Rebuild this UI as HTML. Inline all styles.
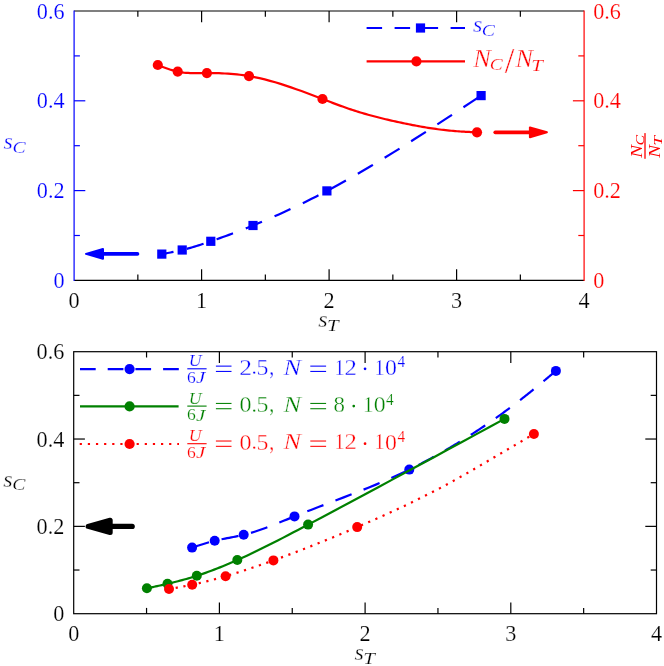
<!DOCTYPE html>
<html>
<head>
<meta charset="utf-8">
<title>sC vs sT</title>
<style>
html, body { margin: 0; padding: 0; background: #ffffff; }
body { width: 664px; height: 666px; overflow: hidden; }
svg { display: block; font-family: "Liberation Serif", serif; will-change: transform; }
text.g { font-size: 100px; stroke: #ffffff; stroke-width: 0.35px; vector-effect: non-scaling-stroke; paint-order: fill stroke; }
text.h { font-size: 100px; }
text.m { font-size: 100px; stroke: #ffffff; stroke-width: 0.22px; vector-effect: non-scaling-stroke; paint-order: fill stroke; }
text.t { stroke: #ffffff; stroke-width: 0.18px; paint-order: fill stroke; }
</style>
</head>
<body>
<svg width="664" height="666" viewBox="0 0 664 666">
<rect x="0" y="0" width="664" height="666" fill="#ffffff"/>
<line x1="74.1" y1="11" x2="584.1" y2="11" stroke="#000000" stroke-width="1.2" />
<line x1="74.1" y1="280.4" x2="584.1" y2="280.4" stroke="#000000" stroke-width="1.2" />
<line x1="137.85" y1="280.4" x2="137.85" y2="274.6" stroke="#000000" stroke-width="1.2" />
<line x1="137.85" y1="11" x2="137.85" y2="16.8" stroke="#000000" stroke-width="1.2" />
<line x1="201.6" y1="280.4" x2="201.6" y2="269.2" stroke="#000000" stroke-width="1.2" />
<line x1="201.6" y1="11" x2="201.6" y2="22.2" stroke="#000000" stroke-width="1.2" />
<line x1="265.35" y1="280.4" x2="265.35" y2="274.6" stroke="#000000" stroke-width="1.2" />
<line x1="265.35" y1="11" x2="265.35" y2="16.8" stroke="#000000" stroke-width="1.2" />
<line x1="329.1" y1="280.4" x2="329.1" y2="269.2" stroke="#000000" stroke-width="1.2" />
<line x1="329.1" y1="11" x2="329.1" y2="22.2" stroke="#000000" stroke-width="1.2" />
<line x1="392.85" y1="280.4" x2="392.85" y2="274.6" stroke="#000000" stroke-width="1.2" />
<line x1="392.85" y1="11" x2="392.85" y2="16.8" stroke="#000000" stroke-width="1.2" />
<line x1="456.6" y1="280.4" x2="456.6" y2="269.2" stroke="#000000" stroke-width="1.2" />
<line x1="456.6" y1="11" x2="456.6" y2="22.2" stroke="#000000" stroke-width="1.2" />
<line x1="520.35" y1="280.4" x2="520.35" y2="274.6" stroke="#000000" stroke-width="1.2" />
<line x1="520.35" y1="11" x2="520.35" y2="16.8" stroke="#000000" stroke-width="1.2" />
<line x1="74.1" y1="235.5" x2="79.9" y2="235.5" stroke="#0000ff" stroke-width="1.2" />
<line x1="584.1" y1="235.5" x2="578.3" y2="235.5" stroke="#ff0000" stroke-width="1.2" />
<line x1="74.1" y1="190.6" x2="85.3" y2="190.6" stroke="#0000ff" stroke-width="1.2" />
<line x1="584.1" y1="190.6" x2="572.9" y2="190.6" stroke="#ff0000" stroke-width="1.2" />
<line x1="74.1" y1="145.7" x2="79.9" y2="145.7" stroke="#0000ff" stroke-width="1.2" />
<line x1="584.1" y1="145.7" x2="578.3" y2="145.7" stroke="#ff0000" stroke-width="1.2" />
<line x1="74.1" y1="100.8" x2="85.3" y2="100.8" stroke="#0000ff" stroke-width="1.2" />
<line x1="584.1" y1="100.8" x2="572.9" y2="100.8" stroke="#ff0000" stroke-width="1.2" />
<line x1="74.1" y1="55.9" x2="79.9" y2="55.9" stroke="#0000ff" stroke-width="1.2" />
<line x1="584.1" y1="55.9" x2="578.3" y2="55.9" stroke="#ff0000" stroke-width="1.2" />
<line x1="74.1" y1="10.4" x2="74.1" y2="281" stroke="#0000ff" stroke-width="1.2" />
<line x1="584.1" y1="10.4" x2="584.1" y2="281" stroke="#ff0000" stroke-width="1.2" />
<text class="t" x="74.1" y="307.8" fill="#000000" font-size="22.2" text-anchor="middle" >0</text>
<text class="t" x="201.6" y="307.8" fill="#000000" font-size="22.2" text-anchor="middle" >1</text>
<text class="t" x="329.1" y="307.8" fill="#000000" font-size="22.2" text-anchor="middle" >2</text>
<text class="t" x="456.6" y="307.8" fill="#000000" font-size="22.2" text-anchor="middle" >3</text>
<text class="t" x="584.1" y="307.8" fill="#000000" font-size="22.2" text-anchor="middle" >4</text>
<text class="t" x="64.6" y="288" fill="#0000ff" font-size="22.2" text-anchor="end" >0</text>
<text class="t" x="593.2" y="288" fill="#ff0000" font-size="22.2" text-anchor="start" >0</text>
<text class="t" x="64.6" y="198.2" fill="#0000ff" font-size="22.2" text-anchor="end" >0.2</text>
<text class="t" x="593.2" y="198.2" fill="#ff0000" font-size="22.2" text-anchor="start" >0.2</text>
<text class="t" x="64.6" y="108.4" fill="#0000ff" font-size="22.2" text-anchor="end" >0.4</text>
<text class="t" x="593.2" y="108.4" fill="#ff0000" font-size="22.2" text-anchor="start" >0.4</text>
<text class="t" x="64.6" y="18.6" fill="#0000ff" font-size="22.2" text-anchor="end" >0.6</text>
<text class="t" x="593.2" y="18.6" fill="#ff0000" font-size="22.2" text-anchor="start" >0.6</text>
<path d="M157.8 65 L159.22 65.56 L160.64 66.11 L162.06 66.66 L163.49 67.2 L164.91 67.73 L166.33 68.24 L167.75 68.74 L169.17 69.23 L170.59 69.69 L172.01 70.13 L173.44 70.54 L174.86 70.93 L176.28 71.28 L177.7 71.6 L179.79 72.01 L181.87 72.34 L183.96 72.61 L186.04 72.82 L188.13 72.97 L190.21 73.08 L192.3 73.16 L194.39 73.2 L196.47 73.21 L198.56 73.2 L200.64 73.18 L202.73 73.15 L204.81 73.12 L206.9 73.1 L209.91 73.09 L212.91 73.1 L215.92 73.15 L218.93 73.22 L221.94 73.33 L224.94 73.48 L227.95 73.66 L230.96 73.88 L233.96 74.14 L236.97 74.44 L239.98 74.78 L242.99 75.17 L245.99 75.61 L249 76.1 L254.25 77.07 L259.5 78.19 L264.75 79.44 L270 80.82 L275.25 82.31 L280.5 83.9 L285.75 85.58 L291 87.35 L296.25 89.18 L301.5 91.07 L306.75 93.01 L312 94.98 L317.25 96.98 L322.5 99 L324.51 99.78 L326.53 100.55 L328.54 101.32 L330.56 102.09 L332.57 102.86 L334.59 103.62 L336.6 104.38 L338.61 105.12 L340.63 105.86 L342.64 106.59 L344.66 107.31 L346.67 108.02 L348.69 108.72 L350.7 109.4 L352.64 110.04 L354.57 110.67 L356.51 111.28 L358.44 111.89 L360.38 112.48 L362.31 113.05 L364.25 113.62 L366.19 114.18 L368.12 114.72 L370.06 115.26 L371.99 115.78 L373.93 116.3 L375.86 116.8 L377.8 117.3 L379.74 117.79 L381.67 118.27 L383.61 118.74 L385.54 119.21 L387.48 119.67 L389.41 120.12 L391.35 120.57 L393.29 121 L395.22 121.44 L397.16 121.86 L399.09 122.28 L401.03 122.69 L402.96 123.1 L404.9 123.5 L406.84 123.9 L408.77 124.29 L410.71 124.67 L412.64 125.05 L414.58 125.42 L416.51 125.78 L418.45 126.14 L420.39 126.49 L422.32 126.83 L424.26 127.16 L426.19 127.49 L428.13 127.8 L430.06 128.11 L432 128.4 L433.94 128.68 L435.87 128.96 L437.81 129.22 L439.74 129.48 L441.68 129.72 L443.61 129.95 L445.55 130.17 L447.49 130.38 L449.42 130.58 L451.36 130.77 L453.29 130.94 L455.23 131.11 L457.16 131.26 L459.1 131.4 L460.38 131.49 L461.66 131.57 L462.94 131.64 L464.21 131.72 L465.49 131.79 L466.77 131.85 L468.05 131.91 L469.33 131.97 L470.61 132.03 L471.89 132.09 L473.16 132.14 L474.44 132.2 L475.72 132.25 L477 132.3" fill="none" stroke="#ff0000" stroke-width="2.2"/>
<path d="M161.8 254.1 L163.26 253.84 L164.71 253.57 L166.17 253.31 L167.63 253.04 L169.09 252.76 L170.54 252.49 L172 252.2 L173.46 251.92 L174.91 251.62 L176.37 251.32 L177.83 251 L179.29 250.68 L180.74 250.35 L182.2 250 L184.24 249.49 L186.29 248.97 L188.33 248.42 L190.37 247.84 L192.41 247.25 L194.46 246.64 L196.5 246.02 L198.54 245.38 L200.59 244.73 L202.63 244.06 L204.67 243.38 L206.71 242.7 L208.76 242 L210.8 241.3 L213.81 240.25 L216.83 239.2 L219.84 238.13 L222.86 237.05 L225.87 235.95 L228.89 234.85 L231.9 233.73 L234.91 232.59 L237.93 231.45 L240.94 230.29 L243.96 229.11 L246.97 227.92 L249.99 226.72 L253 225.5 L258.28 223.33 L263.56 221.12 L268.84 218.85 L274.11 216.55 L279.39 214.19 L284.67 211.79 L289.95 209.34 L295.23 206.85 L300.51 204.31 L305.79 201.72 L311.06 199.09 L316.34 196.41 L321.62 193.68 L326.9 190.9 L337.91 184.96 L348.93 178.82 L359.94 172.51 L370.96 166.03 L381.97 159.41 L392.99 152.66 L404 145.78 L415.01 138.8 L426.03 131.74 L437.04 124.6 L448.06 117.4 L459.07 110.16 L470.09 102.89 L481.1 95.6" fill="none" stroke="#0000ff" stroke-width="2.2" stroke-dasharray="17.5 13.7" stroke-dashoffset="5.6"/>
<circle cx="157.8" cy="65" r="5.1" fill="#ff0000"/>
<circle cx="177.7" cy="71.6" r="5.1" fill="#ff0000"/>
<circle cx="206.9" cy="73.1" r="5.1" fill="#ff0000"/>
<circle cx="249" cy="76.1" r="5.1" fill="#ff0000"/>
<circle cx="322.5" cy="99" r="5.1" fill="#ff0000"/>
<circle cx="477" cy="132.3" r="5.1" fill="#ff0000"/>
<rect x="157.2" y="249.5" width="9.2" height="9.2" fill="#0000ff"/>
<rect x="177.6" y="245.4" width="9.2" height="9.2" fill="#0000ff"/>
<rect x="206.2" y="236.7" width="9.2" height="9.2" fill="#0000ff"/>
<rect x="248.4" y="220.9" width="9.2" height="9.2" fill="#0000ff"/>
<rect x="322.3" y="186.3" width="9.2" height="9.2" fill="#0000ff"/>
<rect x="476.5" y="91" width="9.2" height="9.2" fill="#0000ff"/>
<path d="M366.6 28 H465" fill="none" stroke="#0000ff" stroke-width="2.2" stroke-dasharray="15.5 12.5"/>
<rect x="415.9" y="23.4" width="9.2" height="9.2" fill="#0000ff"/>
<line x1="366.6" y1="61.3" x2="465" y2="61.3" stroke="#ff0000" stroke-width="2.2" />
<circle cx="416.4" cy="61.3" r="5.1" fill="#ff0000"/>
<g fill="#0000ff">
<text class="g" transform="matrix(0.2406 0 0 0.2313 472.9 32.47)" font-style="italic">s</text>
<text class="m" transform="matrix(0.1968 0 0 0.1770 481.82 35.92)" font-style="italic">C</text>
</g>
<g fill="#ff0000">
<text class="g" transform="matrix(0.2639 0 0 0.2458 473.3 67.1)" font-style="italic">N</text>
<text class="m" transform="matrix(0.1935 0 0 0.1755 489.84 70.42)" font-style="italic">C</text>
<text class="g" transform="matrix(0.3459 0 0 0.3537 504.8 72.55)">/</text>
<text class="g" transform="matrix(0.2611 0 0 0.2458 515.4 67.1)" font-style="italic">N</text>
<text class="m" transform="matrix(0.2091 0 0 0.1664 531.24 70.7)" font-style="italic">T</text>
</g>
<line x1="137.45" y1="253.9" x2="103" y2="253.9" stroke="#0000ff" stroke-width="3.7" stroke-linecap="round"/>
<path d="M86 253.9 L103 249 L103 258.8 Z" fill="#0000ff" stroke="#0000ff" stroke-width="2.0" stroke-linejoin="round"/>
<line x1="495.25" y1="132.3" x2="529.9" y2="132.3" stroke="#ff0000" stroke-width="3.7" stroke-linecap="round"/>
<path d="M546.9 132.3 L529.9 127.4 L529.9 137.2 Z" fill="#ff0000" stroke="#ff0000" stroke-width="2.0" stroke-linejoin="round"/>
<g fill="#0000ff">
<text class="g" transform="matrix(0.2406 0 0 0.2312 3.6 149.27)" font-style="italic">s</text>
<text class="m" transform="matrix(0.1968 0 0 0.1770 12.52 152.72)" font-style="italic">C</text>
</g>
<g fill="#000000">
<text class="g" transform="matrix(0.2406 0 0 0.2312 318.3 327.27)" font-style="italic">s</text>
<text class="m" transform="matrix(0.2091 0 0 0.1649 327.04 330.8)" font-style="italic">T</text>
</g>
<g transform="rotate(-90)" fill="#ff0000">
<text class="h" transform="matrix(0.1917 0 0 0.1710 -157.76 642.1)" font-style="italic">N</text>
<text class="h" transform="matrix(0.1581 0 0 0.1309 -145.57 643.87)" font-style="italic">C</text>
<text class="h" transform="matrix(0.1917 0 0 0.1725 -157.76 660.1)" font-style="italic">N</text>
<text class="h" transform="matrix(0.1709 0 0 0.1267 -145.51 662.1)" font-style="italic">T</text>
</g>
<rect x="644.35" y="133.1" width="1.3" height="25.7" fill="#ff0000"/>
<rect x="73.7" y="351.7" width="582.8" height="262" fill="none" stroke="#000000" stroke-width="1.2"/>
<line x1="146.55" y1="613.7" x2="146.55" y2="607.9" stroke="#000000" stroke-width="1.2" />
<line x1="146.55" y1="351.7" x2="146.55" y2="357.5" stroke="#000000" stroke-width="1.2" />
<line x1="219.4" y1="613.7" x2="219.4" y2="602.5" stroke="#000000" stroke-width="1.2" />
<line x1="219.4" y1="351.7" x2="219.4" y2="362.9" stroke="#000000" stroke-width="1.2" />
<line x1="292.25" y1="613.7" x2="292.25" y2="607.9" stroke="#000000" stroke-width="1.2" />
<line x1="292.25" y1="351.7" x2="292.25" y2="357.5" stroke="#000000" stroke-width="1.2" />
<line x1="365.1" y1="613.7" x2="365.1" y2="602.5" stroke="#000000" stroke-width="1.2" />
<line x1="365.1" y1="351.7" x2="365.1" y2="362.9" stroke="#000000" stroke-width="1.2" />
<line x1="437.95" y1="613.7" x2="437.95" y2="607.9" stroke="#000000" stroke-width="1.2" />
<line x1="437.95" y1="351.7" x2="437.95" y2="357.5" stroke="#000000" stroke-width="1.2" />
<line x1="510.8" y1="613.7" x2="510.8" y2="602.5" stroke="#000000" stroke-width="1.2" />
<line x1="510.8" y1="351.7" x2="510.8" y2="362.9" stroke="#000000" stroke-width="1.2" />
<line x1="583.65" y1="613.7" x2="583.65" y2="607.9" stroke="#000000" stroke-width="1.2" />
<line x1="583.65" y1="351.7" x2="583.65" y2="357.5" stroke="#000000" stroke-width="1.2" />
<line x1="73.7" y1="570.03" x2="79.5" y2="570.03" stroke="#000000" stroke-width="1.2" />
<line x1="656.5" y1="570.03" x2="650.7" y2="570.03" stroke="#000000" stroke-width="1.2" />
<line x1="73.7" y1="526.37" x2="84.9" y2="526.37" stroke="#000000" stroke-width="1.2" />
<line x1="656.5" y1="526.37" x2="645.3" y2="526.37" stroke="#000000" stroke-width="1.2" />
<line x1="73.7" y1="482.7" x2="79.5" y2="482.7" stroke="#000000" stroke-width="1.2" />
<line x1="656.5" y1="482.7" x2="650.7" y2="482.7" stroke="#000000" stroke-width="1.2" />
<line x1="73.7" y1="439.03" x2="84.9" y2="439.03" stroke="#000000" stroke-width="1.2" />
<line x1="656.5" y1="439.03" x2="645.3" y2="439.03" stroke="#000000" stroke-width="1.2" />
<line x1="73.7" y1="395.37" x2="79.5" y2="395.37" stroke="#000000" stroke-width="1.2" />
<line x1="656.5" y1="395.37" x2="650.7" y2="395.37" stroke="#000000" stroke-width="1.2" />
<text class="t" x="73.7" y="641.3" fill="#000000" font-size="22.2" text-anchor="middle" >0</text>
<text class="t" x="219.4" y="641.3" fill="#000000" font-size="22.2" text-anchor="middle" >1</text>
<text class="t" x="365.1" y="641.3" fill="#000000" font-size="22.2" text-anchor="middle" >2</text>
<text class="t" x="510.8" y="641.3" fill="#000000" font-size="22.2" text-anchor="middle" >3</text>
<text class="t" x="656.5" y="641.3" fill="#000000" font-size="22.2" text-anchor="middle" >4</text>
<text class="t" x="64.3" y="621.3" fill="#000000" font-size="22.2" text-anchor="end" >0</text>
<text class="t" x="64.3" y="533.97" fill="#000000" font-size="22.2" text-anchor="end" >0.2</text>
<text class="t" x="64.3" y="446.63" fill="#000000" font-size="22.2" text-anchor="end" >0.4</text>
<text class="t" x="64.3" y="359.3" fill="#000000" font-size="22.2" text-anchor="end" >0.6</text>
<path d="M192.1 547.6 L193.71 547.07 L195.33 546.54 L196.94 546.01 L198.56 545.49 L200.17 544.97 L201.79 544.46 L203.4 543.96 L205.01 543.46 L206.63 542.98 L208.24 542.52 L209.86 542.06 L211.47 541.62 L213.09 541.2 L214.7 540.8 L216.77 540.31 L218.84 539.85 L220.91 539.41 L222.99 538.99 L225.06 538.59 L227.13 538.19 L229.2 537.8 L231.27 537.41 L233.34 537.01 L235.41 536.61 L237.49 536.19 L239.56 535.75 L241.63 535.29 L243.7 534.8 L247.33 533.87 L250.96 532.84 L254.59 531.73 L258.21 530.54 L261.84 529.29 L265.47 527.98 L269.1 526.62 L272.73 525.22 L276.36 523.78 L279.99 522.32 L283.61 520.84 L287.24 519.36 L290.87 517.88 L294.5 516.4 L302.7 513.12 L310.9 509.92 L319.1 506.76 L327.3 503.63 L335.5 500.51 L343.7 497.38 L351.9 494.22 L360.1 491.01 L368.3 487.73 L376.5 484.36 L384.7 480.88 L392.9 477.28 L401.1 473.52 L409.3 469.6 L410.78 468.87 L412.26 468.14 L413.74 467.4 L415.21 466.66 L416.69 465.91 L418.17 465.15 L419.65 464.39 L421.13 463.62 L422.61 462.85 L424.09 462.07 L425.56 461.28 L427.04 460.49 L428.52 459.7 L430 458.9 L431.43 458.12 L432.86 457.34 L434.29 456.55 L435.71 455.76 L437.14 454.97 L438.57 454.16 L440 453.36 L441.43 452.55 L442.86 451.74 L444.29 450.92 L445.71 450.09 L447.14 449.27 L448.57 448.44 L450 447.6 L451.43 446.76 L452.86 445.92 L454.29 445.07 L455.71 444.22 L457.14 443.36 L458.57 442.5 L460 441.63 L461.43 440.75 L462.86 439.88 L464.29 438.99 L465.71 438.1 L467.14 437.21 L468.57 436.31 L470 435.4 L471.43 434.49 L472.86 433.57 L474.29 432.64 L475.71 431.71 L477.14 430.77 L478.57 429.83 L480 428.88 L481.43 427.93 L482.86 426.97 L484.29 426 L485.71 425.04 L487.14 424.06 L488.57 423.08 L490 422.1 L491.43 421.11 L492.86 420.12 L494.29 419.12 L495.71 418.12 L497.14 417.12 L498.57 416.1 L500 415.09 L501.43 414.06 L502.86 413.03 L504.29 412 L505.71 410.96 L507.14 409.91 L508.57 408.86 L510 407.8 L511.43 406.73 L512.86 405.66 L514.29 404.58 L515.71 403.5 L517.14 402.4 L518.57 401.3 L520 400.2 L521.43 399.09 L522.86 397.97 L524.29 396.85 L525.71 395.72 L527.14 394.59 L528.57 393.45 L530 392.3 L531.07 391.44 L532.14 390.57 L533.21 389.7 L534.29 388.83 L535.36 387.96 L536.43 387.08 L537.5 386.2 L538.57 385.32 L539.64 384.44 L540.71 383.55 L541.79 382.67 L542.86 381.78 L543.93 380.89 L545 380 L545.78 379.35 L546.56 378.7 L547.34 378.06 L548.11 377.41 L548.89 376.76 L549.67 376.11 L550.45 375.46 L551.23 374.81 L552.01 374.16 L552.79 373.5 L553.56 372.85 L554.34 372.2 L555.12 371.55 L555.9 370.9" fill="none" stroke="#0000ff" stroke-width="2.2" stroke-dasharray="17.3 12.85" stroke-dashoffset="29.68"/>
<circle cx="192.1" cy="547.6" r="5.0" fill="#0000ff"/>
<circle cx="214.7" cy="540.8" r="5.0" fill="#0000ff"/>
<circle cx="243.7" cy="534.8" r="5.0" fill="#0000ff"/>
<circle cx="294.5" cy="516.4" r="5.0" fill="#0000ff"/>
<circle cx="409.3" cy="469.6" r="5.0" fill="#0000ff"/>
<circle cx="555.9" cy="370.9" r="5.0" fill="#0000ff"/>
<path d="M146.9 588.3 L148.37 587.99 L149.84 587.68 L151.31 587.37 L152.79 587.05 L154.26 586.74 L155.73 586.42 L157.2 586.11 L158.67 585.79 L160.14 585.46 L161.61 585.14 L163.09 584.81 L164.56 584.48 L166.03 584.14 L167.5 583.8 L169.59 583.31 L171.69 582.81 L173.78 582.29 L175.87 581.77 L177.96 581.23 L180.06 580.69 L182.15 580.13 L184.24 579.55 L186.34 578.96 L188.43 578.36 L190.52 577.75 L192.61 577.11 L194.71 576.47 L196.8 575.8 L199.69 574.85 L202.59 573.87 L205.48 572.86 L208.37 571.82 L211.26 570.75 L214.16 569.65 L217.05 568.53 L219.94 567.38 L222.84 566.21 L225.73 565.01 L228.62 563.79 L231.51 562.54 L234.41 561.28 L237.3 560 L242.36 557.71 L247.41 555.38 L252.47 552.99 L257.53 550.56 L262.59 548.09 L267.64 545.58 L272.7 543.03 L277.76 540.46 L282.81 537.86 L287.87 535.24 L292.93 532.6 L297.99 529.94 L303.04 527.27 L308.1 524.6 L322.13 517.16 L336.16 509.7 L350.19 502.22 L364.21 494.71 L378.24 487.18 L392.27 479.64 L406.3 472.08 L420.33 464.51 L434.36 456.93 L448.39 449.33 L462.41 441.73 L476.44 434.12 L490.47 426.51 L504.5 418.9" fill="none" stroke="#008000" stroke-width="2.2"/>
<circle cx="146.9" cy="588.3" r="5.0" fill="#008000"/>
<circle cx="167.5" cy="583.8" r="5.0" fill="#008000"/>
<circle cx="196.8" cy="575.8" r="5.0" fill="#008000"/>
<circle cx="237.3" cy="560" r="5.0" fill="#008000"/>
<circle cx="308.1" cy="524.6" r="5.0" fill="#008000"/>
<circle cx="504.5" cy="418.9" r="5.0" fill="#008000"/>
<path d="M169 589 L170.66 588.71 L172.31 588.42 L173.97 588.14 L175.63 587.84 L177.29 587.55 L178.94 587.25 L180.6 586.95 L182.26 586.65 L183.91 586.34 L185.57 586.03 L187.23 585.71 L188.89 585.38 L190.54 585.04 L192.2 584.7 L194.59 584.19 L196.97 583.67 L199.36 583.12 L201.74 582.57 L204.13 581.99 L206.51 581.4 L208.9 580.8 L211.29 580.18 L213.67 579.55 L216.06 578.9 L218.44 578.24 L220.83 577.57 L223.21 576.89 L225.6 576.2 L229.01 575.19 L232.43 574.16 L235.84 573.11 L239.26 572.03 L242.67 570.94 L246.09 569.83 L249.5 568.71 L252.91 567.57 L256.33 566.41 L259.74 565.23 L263.16 564.04 L266.57 562.84 L269.99 561.63 L273.4 560.4 L279.39 558.22 L285.37 556.01 L291.36 553.76 L297.34 551.48 L303.33 549.17 L309.31 546.83 L315.3 544.46 L321.29 542.06 L327.27 539.63 L333.26 537.18 L339.24 534.69 L345.23 532.19 L351.21 529.66 L357.2 527.1 L361.05 525.44 L364.9 523.78 L368.75 522.1 L372.6 520.41 L376.45 518.71 L380.3 516.99 L384.15 515.27 L388 513.52 L391.85 511.76 L395.7 509.99 L399.55 508.19 L403.4 506.38 L407.25 504.55 L411.1 502.7 L414.08 501.25 L417.06 499.8 L420.04 498.33 L423.01 496.84 L425.99 495.34 L428.97 493.83 L431.95 492.31 L434.93 490.77 L437.91 489.21 L440.89 487.64 L443.86 486.06 L446.84 484.45 L449.82 482.84 L452.8 481.2 L455.76 479.56 L458.71 477.9 L461.67 476.24 L464.63 474.55 L467.59 472.86 L470.54 471.15 L473.5 469.44 L476.46 467.72 L479.41 465.99 L482.37 464.26 L485.33 462.52 L488.29 460.78 L491.24 459.04 L494.2 457.3 L497.04 455.63 L499.87 453.96 L502.71 452.3 L505.54 450.63 L508.38 448.97 L511.21 447.3 L514.05 445.64 L516.89 443.97 L519.72 442.31 L522.56 440.65 L525.39 438.99 L528.23 437.32 L531.06 435.66 L533.9 434" fill="none" stroke="#ff0000" stroke-width="2.2" stroke-dasharray="2.2 5.64" stroke-dashoffset="1.1"/>
<circle cx="169" cy="589" r="5.0" fill="#ff0000"/>
<circle cx="192.2" cy="584.7" r="5.0" fill="#ff0000"/>
<circle cx="225.6" cy="576.2" r="5.0" fill="#ff0000"/>
<circle cx="273.4" cy="560.4" r="5.0" fill="#ff0000"/>
<circle cx="357.2" cy="527.1" r="5.0" fill="#ff0000"/>
<circle cx="533.9" cy="434" r="5.0" fill="#ff0000"/>
<path d="M80 369.1 H179" fill="none" stroke="#0000ff" stroke-width="2.2" stroke-dasharray="15.7 12"/>
<line x1="80" y1="406.4" x2="178.6" y2="406.4" stroke="#008000" stroke-width="2.2" />
<path d="M79.7 444.0 H179" fill="none" stroke="#ff0000" stroke-width="2.2" stroke-dasharray="2.2 5.93"/>
<circle cx="129.6" cy="369.1" r="5.1" fill="#0000ff"/>
<circle cx="129.6" cy="406.4" r="5.1" fill="#008000"/>
<circle cx="129.6" cy="444" r="5.1" fill="#ff0000"/>
<g fill="#0000ff">
<text class="m" transform="matrix(0.1773 0 0 0.1699 188.66 366.43)" font-style="italic">U</text>
<rect x="187.3" y="368.25" width="19.3" height="1.1"/>
<text class="m" transform="matrix(0.1754 0 0 0.1591 187.05 383.14)">6</text>
<text class="m" transform="matrix(0.2096 0 0 0.1639 195.99 383.34)" font-style="italic">J</text>
<rect x="215.9" y="365.6" width="15.6" height="1.05"/>
<rect x="215.9" y="370.9" width="15.6" height="1.05"/>
<text class="g" transform="matrix(0.2550 0 0 0.2340 239.25 374.5)">2</text>
<text class="g" transform="matrix(0.2167 0 0 0.2213 251.59 374.37)">.</text>
<text class="g" transform="matrix(0.2385 0 0 0.2361 256.43 374.66)">5</text>
<text class="g" transform="matrix(0.2000 0 0 0.2602 269.15 374.67)">,</text>
<text class="g" transform="matrix(0.2639 0 0 0.2397 283.6 374.5)" font-style="italic">N</text>
<rect x="310.3" y="365.6" width="15.8" height="1.05"/>
<rect x="310.3" y="370.9" width="15.8" height="1.05"/>
<text class="g" transform="matrix(0.2099 0 0 0.2303 334.16 374.5)">1</text>
<text class="g" transform="matrix(0.2475 0 0 0.2325 344.49 374.5)">2</text>
<circle cx="365.05" cy="368.8" r="1.35"/>
<text class="g" transform="matrix(0.2099 0 0 0.2303 374.36 374.5)">1</text>
<text class="g" transform="matrix(0.2376 0 0 0.2356 385.01 374.66)">0</text>
<text class="m" transform="matrix(0.1527 0 0 0.1658 397.39 367.3)">4</text>
</g>
<g fill="#008000">
<text class="m" transform="matrix(0.1773 0 0 0.1699 188.66 403.73)" font-style="italic">U</text>
<rect x="187.3" y="405.55" width="19.3" height="1.1"/>
<text class="m" transform="matrix(0.1754 0 0 0.1591 187.05 420.44)">6</text>
<text class="m" transform="matrix(0.2096 0 0 0.1639 195.99 420.64)" font-style="italic">J</text>
<rect x="215.9" y="402.9" width="15.6" height="1.05"/>
<rect x="215.9" y="408.2" width="15.6" height="1.05"/>
<text class="g" transform="matrix(0.2400 0 0 0.2356 239.5 411.96)">0</text>
<text class="g" transform="matrix(0.2167 0 0 0.2213 251.59 411.67)">.</text>
<text class="g" transform="matrix(0.2385 0 0 0.2361 256.43 411.96)">5</text>
<text class="g" transform="matrix(0.2000 0 0 0.2602 269.15 411.97)">,</text>
<text class="g" transform="matrix(0.2639 0 0 0.2397 283.6 411.8)" font-style="italic">N</text>
<rect x="310.3" y="402.9" width="15.8" height="1.05"/>
<rect x="310.3" y="408.2" width="15.8" height="1.05"/>
<text class="g" transform="matrix(0.2282 0 0 0.2356 333.54 411.96)">8</text>
<circle cx="353.75" cy="406.1" r="1.35"/>
<text class="g" transform="matrix(0.2099 0 0 0.2303 363.06 411.8)">1</text>
<text class="g" transform="matrix(0.2376 0 0 0.2356 373.71 411.96)">0</text>
<text class="m" transform="matrix(0.1527 0 0 0.1658 386.09 404.6)">4</text>
</g>
<g fill="#ff0000">
<text class="m" transform="matrix(0.1773 0 0 0.1699 188.66 441.33)" font-style="italic">U</text>
<rect x="187.3" y="443.15" width="19.3" height="1.1"/>
<text class="m" transform="matrix(0.1754 0 0 0.1591 187.05 458.04)">6</text>
<text class="m" transform="matrix(0.2096 0 0 0.1639 195.99 458.24)" font-style="italic">J</text>
<rect x="215.9" y="440.5" width="15.6" height="1.05"/>
<rect x="215.9" y="445.8" width="15.6" height="1.05"/>
<text class="g" transform="matrix(0.2400 0 0 0.2356 239.5 449.56)">0</text>
<text class="g" transform="matrix(0.2167 0 0 0.2213 251.59 449.27)">.</text>
<text class="g" transform="matrix(0.2385 0 0 0.2361 256.43 449.56)">5</text>
<text class="g" transform="matrix(0.2000 0 0 0.2602 269.15 449.57)">,</text>
<text class="g" transform="matrix(0.2639 0 0 0.2397 283.6 449.4)" font-style="italic">N</text>
<rect x="310.3" y="440.5" width="15.8" height="1.05"/>
<rect x="310.3" y="445.8" width="15.8" height="1.05"/>
<text class="g" transform="matrix(0.2099 0 0 0.2303 334.16 449.4)">1</text>
<text class="g" transform="matrix(0.2475 0 0 0.2325 344.49 449.4)">2</text>
<circle cx="365.05" cy="443.7" r="1.35"/>
<text class="g" transform="matrix(0.2099 0 0 0.2303 374.36 449.4)">1</text>
<text class="g" transform="matrix(0.2376 0 0 0.2356 385.01 449.56)">0</text>
<text class="m" transform="matrix(0.1527 0 0 0.1658 397.39 442.2)">4</text>
</g>
<line x1="132.15" y1="526.4" x2="110.2" y2="526.4" stroke="#000000" stroke-width="5.3" stroke-linecap="round"/>
<path d="M88.1 526.4 L110.2 520.2 L110.2 532.6 Z" fill="#000000" stroke="#000000" stroke-width="5.0" stroke-linejoin="round"/>
<g fill="#000000">
<text class="g" transform="matrix(0.2406 0 0 0.2312 3.3 486.67)" font-style="italic">s</text>
<text class="m" transform="matrix(0.1968 0 0 0.1770 12.22 490.12)" font-style="italic">C</text>
</g>
<g fill="#000000">
<text class="g" transform="matrix(0.2406 0 0 0.2313 354.5 660.17)" font-style="italic">s</text>
<text class="m" transform="matrix(0.2091 0 0 0.1649 363.24 663.7)" font-style="italic">T</text>
</g>
</svg>
</body>
</html>
